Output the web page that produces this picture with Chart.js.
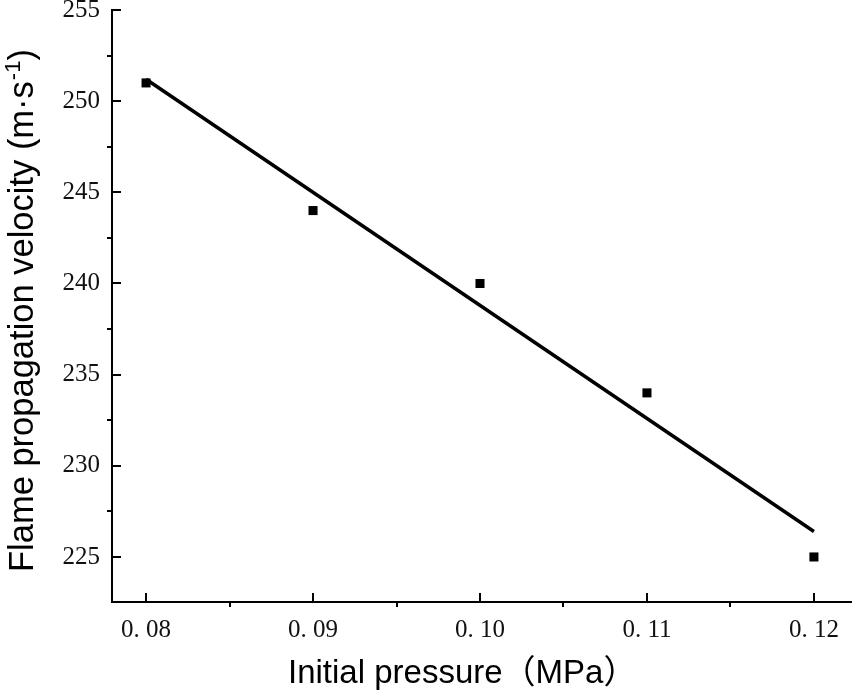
<!DOCTYPE html>
<html lang="en">
<head>
<meta charset="UTF-8">
<title>Flame propagation velocity vs initial pressure</title>
<script src="https://cdn.jsdelivr.net/npm/chart.js"></script>
<style>
    html, body { margin: 0; padding: 0; background: #fff; overflow: hidden; }
    .chart-container { position: relative; width: 852px; height: 694px; }
    canvas { display: block; }
</style>
</head>
<body>
<div class="chart-container"><canvas id="velocityChart"></canvas></div>
<script>
// measured points
var pressure = [0.08, 0.09, 0.10, 0.11, 0.12];
var velocity = [251, 244, 240, 234, 225];

var fitPressure = [0.08, 0.12];
var fitVelocity = [251.2, 226.4];

// axes
var xMajorTicks = [0.08, 0.09, 0.10, 0.11, 0.12];
var xMinorTicks = [0.085, 0.095, 0.105, 0.115];
var xTickLabels = ["0. 08", "0. 09", "0. 10", "0. 11", "0. 12"];
var yMajorTicks = [225, 230, 235, 240, 245, 250, 255];
var yMinorTicks = [227.5, 232.5, 237.5, 242.5, 247.5, 252.5];
var yTickLabels = ["225", "230", "235", "240", "245", "250", "255"];

var xTitle = "Initial pressure\uFF08MPa\uFF09";
var yTitle = "Flame propagation velocity (m\u00B7s";
var yTitleSup = "-1";
var yTitleEnd = ")";

var points = pressure.map(function (p, i) { return { x: p, y: velocity[i] }; });
var fitPoints = fitPressure.map(function (p, i) { return { x: p, y: fitVelocity[i] }; });

// major ticks point in, minor ticks point out
var tickMarks = {
    id: 'tickMarks',
    afterDraw: function (chart) {
        var ctx = chart.ctx, xs = chart.scales.x, ys = chart.scales.y, a = chart.chartArea;
        ctx.save();
        ctx.strokeStyle = '#000';
        ctx.lineWidth = 2;
        ctx.beginPath();
        xMajorTicks.forEach(function (v) {
            var px = Math.round(xs.getPixelForValue(v));
            ctx.moveTo(px, a.bottom); ctx.lineTo(px, a.bottom - 9);
        });
        xMinorTicks.forEach(function (v) {
            var px = Math.round(xs.getPixelForValue(v));
            ctx.moveTo(px, a.bottom); ctx.lineTo(px, a.bottom + 5);
        });
        yMajorTicks.forEach(function (v) {
            var py = Math.round(ys.getPixelForValue(v));
            ctx.moveTo(a.left, py); ctx.lineTo(a.left + 9, py);
        });
        yMinorTicks.forEach(function (v) {
            var py = Math.round(ys.getPixelForValue(v));
            ctx.moveTo(a.left, py); ctx.lineTo(a.left - 5, py);
        });
        ctx.stroke();
        ctx.restore();
    }
};

// axis titles (y title needs a superscript)
var axisTitles = {
    id: 'axisTitles',
    afterDraw: function (chart) {
        var ctx = chart.ctx;
        ctx.save();
        ctx.fillStyle = '#000';
        ctx.textBaseline = 'alphabetic';
        ctx.textAlign = 'left';

        ctx.font = '33px "Liberation Sans", Arial, "Noto Sans CJK SC", sans-serif';
        ctx.fillText(xTitle, 288, 683);

        ctx.translate(33, 572);
        ctx.rotate(-Math.PI / 2);
        ctx.font = '34.5px "Liberation Sans", Arial, sans-serif';
        ctx.fillText(yTitle, 0, 0);
        var w = ctx.measureText(yTitle).width;
        ctx.font = '22px "Liberation Sans", Arial, sans-serif';
        ctx.fillText(yTitleSup, w + 1, -13);
        w += ctx.measureText(yTitleSup).width + 1;
        ctx.font = '34.5px "Liberation Sans", Arial, sans-serif';
        ctx.fillText(yTitleEnd, w, 0);
        ctx.restore();
    }
};

var ctx = document.getElementById('velocityChart').getContext('2d');
var chart = new Chart(ctx, {
    type: 'scatter',
    data: {
        datasets: [{
            label: 'Fit',
            data: fitPoints,
            showLine: true,
            borderColor: '#000',
            borderWidth: 3.5,
            pointRadius: 0,
            fill: false
        }, {
            label: 'Measured',
            data: points,
            pointStyle: 'rect',
            pointRadius: 6.4,
            pointBorderWidth: 0,
            backgroundColor: '#000',
            borderColor: '#000'
        }]
    },
    options: {
        responsive: true,
        maintainAspectRatio: false,
        animation: false,
        layout: { autoPadding: false, padding: { top: 10, right: 0, left: 0, bottom: 0 } },
        plugins: { legend: { display: false }, tooltip: { enabled: false } },
        scales: {
            x: {
                type: 'linear',
                min: 0.07796,
                max: 0.12228,
                grid: { display: false, drawTicks: false },
                border: { display: true, color: '#000', width: 2 },
                afterBuildTicks: function (s) { s.ticks = xMajorTicks.map(function (v) { return { value: v }; }); },
                afterFit: function (s) { s.height = 92; s.paddingLeft = 0; s.paddingRight = 0; },
                ticks: {
                    autoSkip: false,
                    maxRotation: 0,
                    padding: 13,
                    color: '#111',
                    font: { family: '"Liberation Serif", "Times New Roman", serif', size: 25 },
                    callback: function (v, i) { return xTickLabels[i]; }
                }
            },
            y: {
                type: 'linear',
                min: 222.53,
                max: 255,
                grid: { display: false, drawTicks: false },
                border: { display: true, color: '#000', width: 2 },
                afterBuildTicks: function (s) { s.ticks = yMajorTicks.map(function (v) { return { value: v }; }); },
                afterFit: function (s) { s.width = 112; s.paddingTop = 0; s.paddingBottom = 0; },
                ticks: {
                    autoSkip: false,
                    padding: 12,
                    color: '#111',
                    font: { family: '"Liberation Serif", "Times New Roman", serif', size: 25 },
                    callback: function (v, i) { return yTickLabels[i]; }
                }
            }
        }
    },
    plugins: [tickMarks, axisTitles]
});
</script>
</body>
</html>
